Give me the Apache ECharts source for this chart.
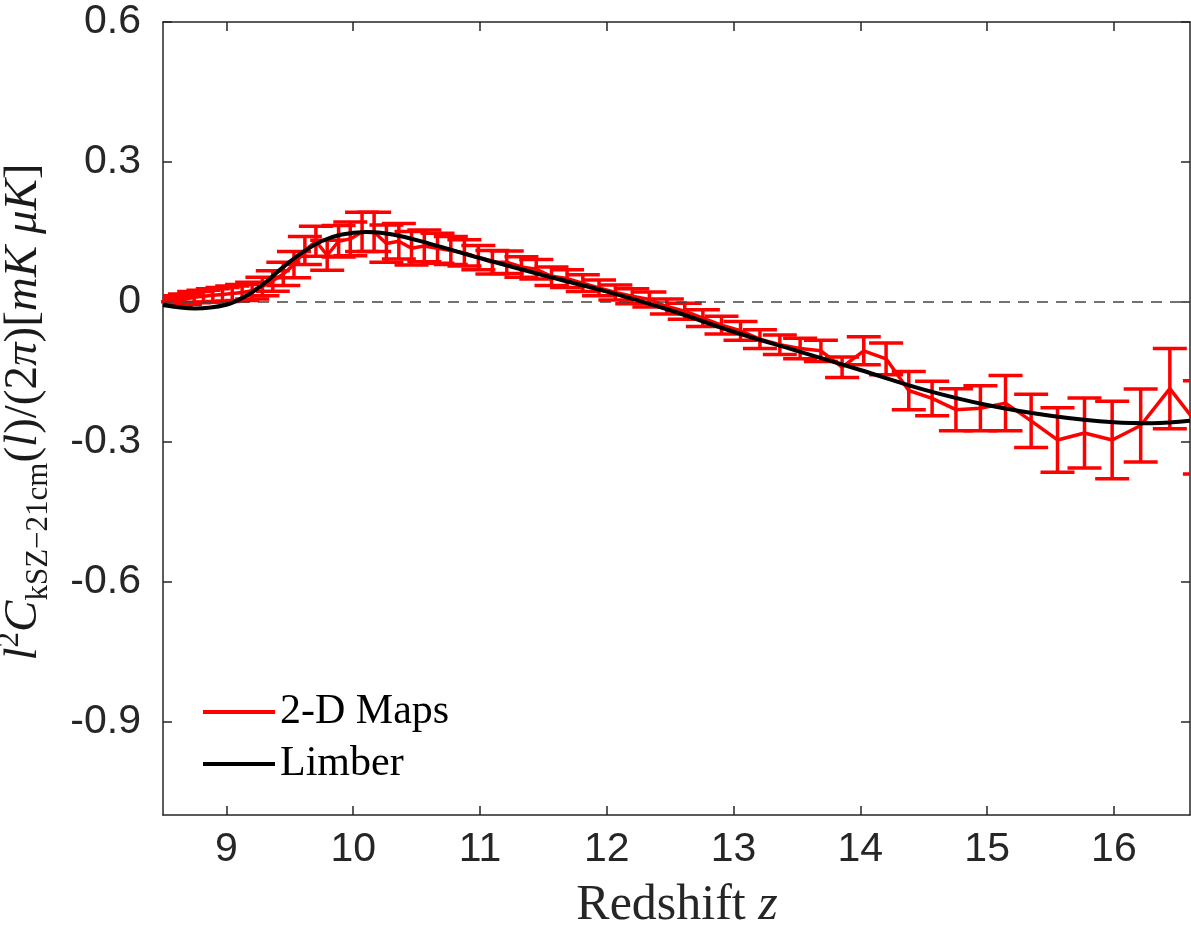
<!DOCTYPE html>
<html>
<head>
<meta charset="utf-8">
<script src="https://cdn.jsdelivr.net/npm/echarts@6/dist/echarts.min.js"></script>
<style>
html,body{margin:0;padding:0;background:#fff;}
#c{width:1191px;height:939px;}
</style>
</head>
<body>
<div id="c"></div>
<script>
// ---- data ----
const mapZ = [8.462, 8.532, 8.602, 8.673, 8.746, 8.819, 8.893, 8.969, 9.046, 9.124,
  9.203, 9.284, 9.366, 9.449, 9.533, 9.619, 9.706, 9.795, 9.885, 9.977,
  10.070, 10.165, 10.262, 10.360, 10.460, 10.561, 10.665, 10.770, 10.877, 10.987,
  11.098, 11.211, 11.327, 11.444, 11.564, 11.687, 11.811, 11.939, 12.068, 12.201,
  12.336, 12.474, 12.615, 12.758, 12.905, 13.055, 13.208, 13.365, 13.525, 13.689,
  13.856, 14.027, 14.203, 14.382, 14.566, 14.754, 14.947, 15.145, 15.347, 15.555,
  15.768, 15.986, 16.211, 16.441, 16.678];
const mapVal = [0.000, 0.001, 0.003, 0.006, 0.010, 0.012, 0.014, 0.016, 0.018, 0.020,
  0.024, 0.033, 0.045, 0.060, 0.080, 0.110, 0.130, 0.100, 0.130, 0.135,
  0.150, 0.150, 0.125, 0.130, 0.115, 0.120, 0.115, 0.110, 0.105, 0.095,
  0.085, 0.085, 0.075, 0.070, 0.055, 0.050, 0.040, 0.030, 0.020, 0.012,
  0.005, -0.010, -0.020, -0.035, -0.050, -0.062, -0.080, -0.092, -0.100, -0.105,
  -0.140, -0.105, -0.122, -0.190, -0.207, -0.231, -0.228, -0.217, -0.255, -0.296,
  -0.281, -0.296, -0.265, -0.186, -0.269];
const mapErr = [0.008, 0.009, 0.010, 0.011, 0.012, 0.013, 0.014, 0.015, 0.016, 0.017,
  0.018, 0.020, 0.022, 0.025, 0.028, 0.030, 0.032, 0.032, 0.034, 0.036,
  0.042, 0.042, 0.040, 0.038, 0.036, 0.034, 0.032, 0.030, 0.028, 0.026,
  0.025, 0.024, 0.022, 0.021, 0.020, 0.019, 0.018, 0.017, 0.016, 0.016,
  0.016, 0.016, 0.017, 0.018, 0.019, 0.020, 0.020, 0.021, 0.022, 0.023,
  0.022, 0.030, 0.034, 0.041, 0.037, 0.045, 0.048, 0.059, 0.057, 0.069,
  0.075, 0.083, 0.078, 0.086, 0.100];
const limberZ = [8.5, 8.75, 9.0, 9.15, 9.3, 9.45, 9.6, 9.75, 9.9, 10.1,
  10.3, 10.6, 11.0, 11.5, 12.0, 12.5, 13.0, 13.5, 14.0, 14.5,
  15.0, 15.5, 16.0, 16.3, 16.6];
const limberVal = [-0.006, -0.014, -0.006, 0.012, 0.040, 0.075, 0.106, 0.130, 0.144, 0.150,
  0.145, 0.125, 0.094, 0.057, 0.022, -0.018, -0.064, -0.105, -0.146, -0.188,
  -0.221, -0.244, -0.258, -0.260, -0.255];
const xTicks = [9, 10, 11, 12, 13, 14, 15, 16];
const yTicks = [-0.9, -0.6, -0.3, 0, 0.3, 0.6];
const seriesNames = ['2-D Maps', 'Limber'];

// ---- build chart ----
const mapLine = mapZ.map((z, i) => [z, mapVal[i]]);
const mapBars = mapZ.map((z, i) => [z, mapVal[i] - mapErr[i], mapVal[i] + mapErr[i]]);
const limberLine = limberZ.map((z, i) => [z, limberVal[i]]);

const axisColor = '#262626';
const tickFont = "'Liberation Sans', Arial, sans-serif";
const serif = "'Liberation Serif', 'DejaVu Serif', serif";

const chart = echarts.init(document.getElementById('c'), null, {renderer: 'canvas'});

function xAxisDef(pos, showLabel) {
  return {
    type: 'value', min: 8.5, max: 16.6, position: pos,
    axisLine: {show: true, onZero: false, lineStyle: {color: axisColor, width: 1.5}},
    axisTick: {show: true, inside: true, length: 9, customValues: xTicks, lineStyle: {color: axisColor, width: 1.5}},
    axisLabel: {show: showLabel, customValues: xTicks, fontSize: 41, color: axisColor, fontFamily: tickFont, margin: 14},
    splitLine: {show: false}
  };
}
function yAxisDef(pos, showLabel) {
  return {
    type: 'value', min: -1.1, max: 0.6, position: pos,
    axisLine: {show: true, onZero: false, lineStyle: {color: axisColor, width: 1.5}},
    axisTick: {show: true, inside: true, length: 9, customValues: yTicks, lineStyle: {color: axisColor, width: 1.5}},
    axisLabel: {show: showLabel, customValues: yTicks, fontSize: 41, color: axisColor, fontFamily: tickFont, margin: 22,
      formatter: v => (Math.abs(v) < 1e-9 ? '0' : String(Math.round(v * 10) / 10))},
    splitLine: {show: false}
  };
}

const option = {
  backgroundColor: '#ffffff',
  animation: false,
  grid: {left: 163, right: 1, top: 22, bottom: 124, containLabel: false},
  xAxis: [xAxisDef('bottom', true), xAxisDef('top', false)],
  yAxis: [yAxisDef('left', true), yAxisDef('right', false)],
  legend: {
    orient: 'vertical', left: 198, top: 686,
    itemWidth: 72, itemHeight: 4, itemGap: 10,
    textStyle: {fontFamily: serif, fontSize: 42, color: '#000', lineHeight: 42},
    data: [{name: seriesNames[0], icon: 'rect'}, {name: seriesNames[1], icon: 'rect'}]
  },
  series: [
    {
      name: 'errbars', type: 'custom', xAxisIndex: 0, yAxisIndex: 0,
      data: mapBars, encode: {x: 0, y: [1, 2]}, z: 2,
      renderItem: function (params, api) {
        const x = api.value(0);
        const pLo = api.coord([x, api.value(1)]);
        const pHi = api.coord([x, api.value(2)]);
        const hw = 17;
        const st = {stroke: '#ff0000', lineWidth: 3.5, fill: null};
        const cs = params.coordSys;
        return {
          type: 'group',
          clipPath: {type: 'rect', shape: {x: cs.x, y: cs.y, width: cs.width, height: cs.height}},
          children: [
            {type: 'line', shape: {x1: pLo[0], y1: pLo[1], x2: pHi[0], y2: pHi[1]}, style: st},
            {type: 'line', shape: {x1: pLo[0] - hw, y1: pLo[1], x2: pLo[0] + hw, y2: pLo[1]}, style: st},
            {type: 'line', shape: {x1: pHi[0] - hw, y1: pHi[1], x2: pHi[0] + hw, y2: pHi[1]}, style: st}
          ]
        };
      }
    },
    {
      name: seriesNames[0], type: 'line', data: mapLine, showSymbol: false, symbol: 'none',
      clip: true, z: 3, color: '#ff0000',
      lineStyle: {color: '#ff0000', width: 3.5}
    },
    {
      name: 'zero', type: 'line', data: [[8.5, 0], [16.6, 0]], showSymbol: false, symbol: 'none', z: 4,
      lineStyle: {color: '#444444', width: 1.5, type: [11, 8]}, silent: true
    },
    {
      name: seriesNames[1], type: 'line', data: limberLine, showSymbol: false, symbol: 'none',
      smooth: 0.4, clip: true, z: 5, color: '#000000',
      lineStyle: {color: '#000000', width: 4}
    }
  ],
  graphic: [
    {
      type: 'text', x: 24, y: 412, rotation: Math.PI / 2, z: 10,
      style: {
        align: 'center', verticalAlign: 'middle',
        text: '{i|l}{sup|2}{i|C}{sub|kSZ−21cm}{n|(}{i|l}{n|)/(2}{i|π}{n|)[}{i|mK μK}{n|]}',
        rich: {
          i: {fontFamily: serif, fontStyle: 'italic', fontSize: 47, lineHeight: 60, verticalAlign: 'middle', fill: '#1a1a1a'},
          n: {fontFamily: serif, fontSize: 47, lineHeight: 60, verticalAlign: 'middle', fill: '#1a1a1a'},
          sub: {fontFamily: serif, fontSize: 31, lineHeight: 31, verticalAlign: 'bottom', fill: '#1a1a1a'},
          sup: {fontFamily: serif, fontSize: 31, lineHeight: 31, verticalAlign: 'top', fill: '#1a1a1a'}
        }
      }
    },
    {
      type: 'text', x: 677, y: 906, z: 10,
      style: {
        align: 'center', verticalAlign: 'middle',
        text: '{n|Redshift }{i|z}',
        rich: {
          n: {fontFamily: serif, fontSize: 50, fill: '#262626'},
          i: {fontFamily: serif, fontSize: 50, fontStyle: 'italic', fill: '#262626'}
        }
      }
    }
  ]
};
chart.setOption(option);
</script>
</body>
</html>
